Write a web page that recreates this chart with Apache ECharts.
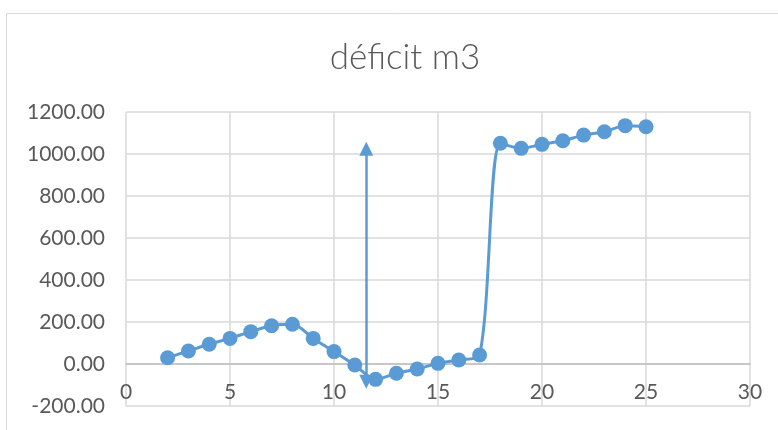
<!DOCTYPE html>
<html>
<head>
<meta charset="utf-8">
<script src="https://cdn.jsdelivr.net/npm/echarts@6/dist/echarts.min.js"></script>
<style>
  html, body { margin: 0; padding: 0; background: #fff; }
  #chart { width: 778px; height: 430px; }
</style>
</head>
<body>
<div id="chart"></div>
<script>
// données
const xValues = [2, 3, 4, 5, 6, 7, 8, 9, 10, 11, 12, 13, 14, 15, 16, 17, 18, 19, 20, 21, 22, 23, 24, 25];
const deficit = [30, 62, 94, 122, 154, 182, 189, 122, 59, -5, -73, -44, -24, 3, 19, 43, 1051, 1027, 1046, 1063, 1090, 1106, 1135, 1130];
// flèche verticale (x, y début, y fin) — centres des pointes
const arrowX = 11.55;
const arrowFrom = -85;
const arrowTo = 1025;

const chart = echarts.init(document.getElementById("chart"));

const gray = "#595959";
const blue = "#5b9bd5";

const option = {
  backgroundColor: "#fff",
  animation: false,
  textStyle: { fontFamily: "Lato" },
  title: {
    text: "déficit m3",
    left: 400,
    textAlign: "center",
    top: 35,
    textStyle: { fontFamily: "Lato", fontWeight: 300, fontSize: 35, color: gray },
  },
  graphic: [
    {
      type: "rect",
      shape: { x: 6.5, y: 13.5, width: 780, height: 430 },
      style: { fill: null, stroke: "#d9d9d9", lineWidth: 1 },
      silent: true,
    },
  ],
  grid: { left: 126, right: 28, top: 112, bottom: 24, outerBoundsMode: "none", containLabel: false },
  xAxis: {
    type: "value",
    min: 0,
    max: 30,
    interval: 5,
    // axe placé sur la ligne y = 0 (42 px au-dessus du bas de la grille)
    offset: -42,
    axisLine: { onZero: false, lineStyle: { color: "#bfbfbf", width: 1.5 } },
    axisTick: { show: false },
    axisLabel: { color: gray, fontSize: 21, margin: 18 },
    splitLine: { show: true, lineStyle: { color: "#d9d9d9", width: 1.5 } },
  },
  yAxis: {
    type: "value",
    min: -200,
    max: 1200,
    interval: 200,
    axisLine: { show: false },
    axisTick: { show: false },
    axisLabel: {
      color: gray,
      fontSize: 21,
      margin: 21,
      formatter: (v) => v.toFixed(2),
    },
    splitLine: { show: true, lineStyle: { color: "#d9d9d9", width: 1.5 } },
  },
  series: [
    {
      type: "line",
      data: xValues.map((x, i) => [x, deficit[i]]),
      smooth: 0.3,
      symbol: "circle",
      symbolSize: 15,
      lineStyle: { color: blue, width: 3 },
      itemStyle: { color: blue },
      z: 3,
      markLine: {
        silent: true,
        symbol: ["triangle", "triangle"],
        symbolSize: [14, 14],
        label: { show: false },
        lineStyle: { color: blue, width: 2.5, type: "solid" },
        data: [[{ coord: [arrowX, arrowFrom] }, { coord: [arrowX, arrowTo] }]],
      },
    },
  ],
};

chart.setOption(option);
</script>
</body>
</html>
